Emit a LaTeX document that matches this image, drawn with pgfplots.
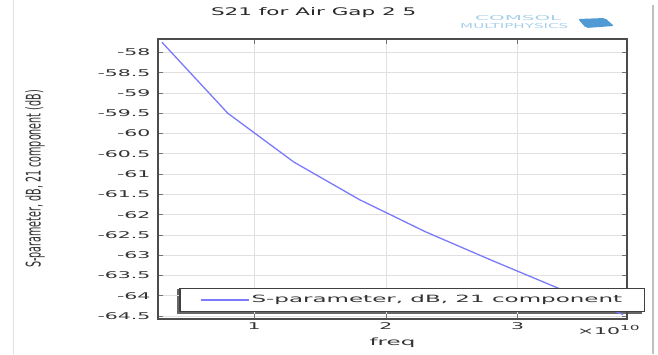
\documentclass[border=0pt]{standalone}
\usepackage{fontspec}
\setmainfont{DejaVu Sans}
\usepackage{pgfplots}
\pgfplotsset{compat=1.18}
\newfontfamily\tickfont[FakeStretch=2.2]{DejaVu Sans}
\newfontfamily\titlefont[FakeStretch=2.05]{DejaVu Sans}
\newfontfamily\legfont[FakeStretch=2.3]{DejaVu Sans}
\definecolor{curve}{RGB}{122,122,250}
\definecolor{logoblue}{RGB}{165,208,234}
\definecolor{logoicon}{RGB}{80,155,212}
\begin{document}
\begin{tikzpicture}
\path[use as bounding box] (-158pt,-35pt) rectangle (500pt,319pt);
\draw[black!12, line width=1.5pt] (-144.5pt,-35pt) -- (-144.5pt,319pt);
\draw[black!25, line width=1.5pt] (495pt,-35pt) -- (495pt,314pt);
\fill[black!60] (18.5pt,5pt) rectangle (484pt,30pt);
\begin{axis}[
  scale only axis,
  width=469pt, height=280pt,
  at={(0pt,0pt)}, anchor=south west,
  xmin=0.27, xmax=3.83,
  ymin=-64.57, ymax=-57.67,
  xtick={1,2,3},
  ytick={-64.5,-64,-63.5,-63,-62.5,-62,-61.5,-61,-60.5,-60,-59.5,-59,-58.5,-58},
  yticklabels={-64.5,-64,-63.5,-63,-62.5,-62,-61.5,-61,-60.5,-60,-59.5,-59,-58.5,-58},
  xticklabels={1,2,3},
  tick align=inside,
  major tick length=5pt,
  tick style={black!55, line width=0.8pt},
  grid=major,
  major grid style={black!12, line width=0.8pt},
  axis line style={black!70, line width=1.4pt},
  ticklabel style={font=\tickfont\fontsize{9.3}{10}\selectfont, text=black!80},
  yticklabel style={xshift=-4pt},
  /pgf/number format/assume math mode=true,
  title={S21 for Air Gap 2 5},
  title style={font=\titlefont\fontsize{10.5}{12}\selectfont, text=black!85, at={(axis description cs:0.332,1.072)}, anchor=center},
  xlabel={freq},
  xlabel style={font=\legfont\fontsize{10}{11}\selectfont, text=black!80, at={(axis description cs:0.5,-0.083)}, anchor=center},
  ylabel={\scalebox{1}[2.1]{S-parameter, dB, 21 component (dB)}},
  ylabel style={font=\fontsize{9.6}{10}\selectfont, text=black!80, at={(axis description cs:-0.262,0.5)}, anchor=center, rotate=0},
  legend style={font=\legfont\fontsize{10}{12}\selectfont, text=black!80,
    at={(1.038,0.025)}, anchor=south east, draw=black!75, line width=1.3pt,
    inner xsep=20pt, inner ysep=5pt, fill=white},
  legend image code/.code={\draw[draw=curve, line width=1.6pt] (0pt,0pt) -- (48pt,0pt);},
  clip=false,
]
\addplot[draw=curve, line width=1.3pt] coordinates {
  (0.3,-57.75) (0.8,-59.5) (1.3,-60.7) (1.8,-61.63) (2.3,-62.42) (2.8,-63.12) (3.3,-63.8) (3.8,-64.46)
};
\addlegendentry{S-parameter, dB, 21 component}
\node[anchor=west, font=\tickfont\fontsize{9.3}{10}\selectfont, text=black!80, inner sep=0pt]
  at (axis description cs:0.893,-0.039) {×10\raisebox{0.5em}{\fontsize{7}{8}\selectfont 10}};
\node[text=logoblue, anchor=west, inner sep=0pt]
  at (axis description cs:0.676,1.075) {\resizebox{86pt}{5pt}{\fontsize{6}{7}\selectfont COMSOL}};
\node[text=logoblue, anchor=west, inner sep=0pt]
  at (axis description cs:0.644,1.047) {\resizebox{108pt}{5pt}{\fontsize{6}{7}\selectfont MULTIPHYSICS}};
\end{axis}
\fill[logoicon, rounded corners=2pt] (420pt,300pt) -- (447pt,301pt) -- (456pt,293pt) -- (428pt,291pt) -- cycle;
\end{tikzpicture}
\end{document}
